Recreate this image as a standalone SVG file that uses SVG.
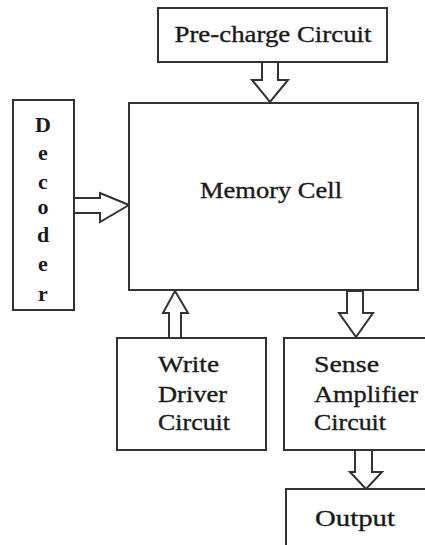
<svg xmlns="http://www.w3.org/2000/svg" width="425" height="545" viewBox="0 0 425 545">
<style>
.box{fill:#fff;stroke:#333;stroke-width:2}
.arr{fill:#fff;stroke:#333;stroke-width:2;stroke-linejoin:miter}
.t{font-family:'Liberation Serif','Times New Roman',serif;font-size:24px;fill:#1a1a1a;stroke:#1a1a1a;stroke-width:0.35}
.dec{font-weight:bold;font-size:22px;text-anchor:middle;stroke-width:0}
</style>
<rect width="425" height="545" fill="#fff"/>
<g id="connectors">
<polygon class="arr" points="262,62 262,80 252,80 270,102 288,80 278,80 278,62"/>
<polygon class="arr" points="74,198 100,198 100,193 129,205 100,222 100,213 74,213"/>
<polygon class="arr" points="169,338 169,313 163,313 175,291 188,313 181,313 181,338"/>
<polygon class="arr" points="347,291 347,313 339,313 356,337 373,313 363,313 363,291"/>
<polygon class="arr" points="355,450 355,472 350,472 366,489 382,472 372,472 372,450"/>
</g>
<g id="precharge">
<rect class="box" x="158" y="8" width="229" height="54"/>
<text class="t" x="273" y="42" text-anchor="middle" textLength="197" lengthAdjust="spacingAndGlyphs">Pre-charge Circuit</text>
</g>
<g id="memory">
<rect class="box" x="129" y="103" width="289" height="187"/>
<text class="t" x="200" y="198" textLength="142" lengthAdjust="spacingAndGlyphs">Memory Cell</text>
</g>
<g id="decoder">
<rect class="box" x="13" y="100" width="61" height="210"/>
<text class="t dec" x="43" y="132">D</text>
<text class="t dec" x="43" y="160">e</text>
<text class="t dec" x="43" y="189">c</text>
<text class="t dec" x="43" y="214">o</text>
<text class="t dec" x="43" y="242">d</text>
<text class="t dec" x="43" y="271">e</text>
<text class="t dec" x="43" y="301">r</text>
</g>
<g id="writedriver">
<rect class="box" x="117" y="338" width="149" height="112"/>
<text class="t" x="158" y="372" textLength="61" lengthAdjust="spacingAndGlyphs">Write</text>
<text class="t" x="158" y="402" textLength="69" lengthAdjust="spacingAndGlyphs">Driver</text>
<text class="t" x="158" y="430" textLength="72" lengthAdjust="spacingAndGlyphs">Circuit</text>
</g>
<g id="senseamp">
<rect class="box" x="284" y="338" width="150" height="112"/>
<text class="t" x="314" y="372" textLength="65" lengthAdjust="spacingAndGlyphs">Sense</text>
<text class="t" x="314" y="402" textLength="104" lengthAdjust="spacingAndGlyphs">Amplifier</text>
<text class="t" x="314" y="430" textLength="72" lengthAdjust="spacingAndGlyphs">Circuit</text>
</g>
<g id="output">
<rect class="box" x="286" y="489" width="150" height="70"/>
<text class="t" x="315" y="526" textLength="80" lengthAdjust="spacingAndGlyphs">Output</text>
</g>
</svg>
